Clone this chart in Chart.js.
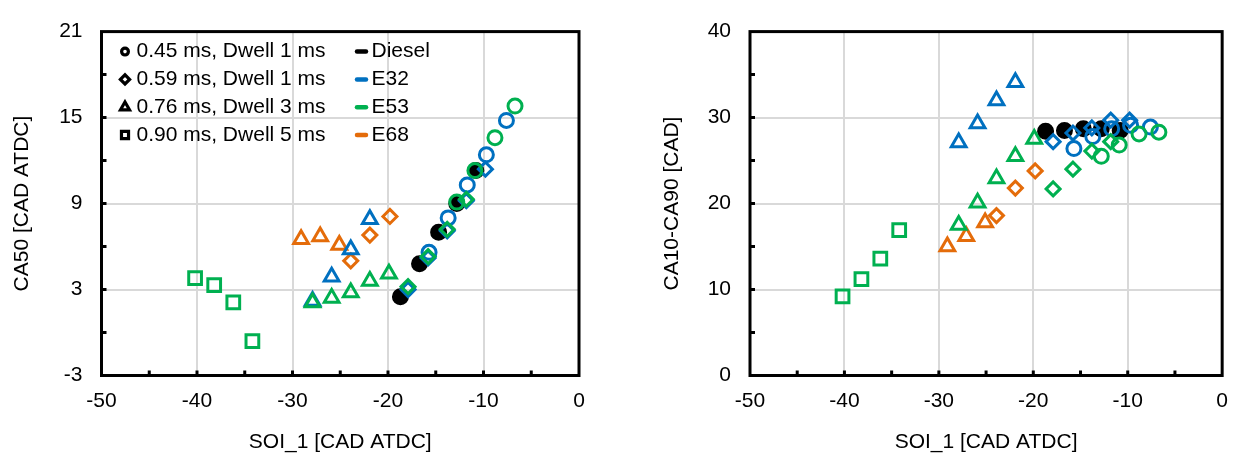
<!DOCTYPE html>
<html>
<head>
<meta charset="utf-8">
<script src="https://cdn.jsdelivr.net/npm/chart.js@4.4.1/dist/chart.umd.min.js"></script>
<style>
  html, body { margin: 0; padding: 0; background: #fff; }
  body { width: 1241px; height: 457px; position: relative; overflow: hidden; }
  canvas { position: absolute; top: 0; }
  #ca50 { left: 0; }
  #burn { left: 620px; }
</style>
</head>
<body>
<canvas id="ca50" width="620" height="457"></canvas>
<canvas id="burn" width="621" height="457"></canvas>
<script>
const soiTicks = [-50, -40, -30, -20, -10, 0];
const ca50Ticks = [-3, 3, 9, 15, 21];
const burnTicks = [0, 10, 20, 30, 40];

const fuels = ["Diesel", "E32", "E53", "E68"];
const fuelColors = ["#000000", "#0070C0", "#00B050", "#E46C0A"];
const injections = ["0.45 ms, Dwell 1 ms", "0.59 ms, Dwell 1 ms", "0.76 ms, Dwell 3 ms", "0.90 ms, Dwell 5 ms"];

// Diesel, 0.45 ms / dwell 1 ms
const dieselCircSoi = [-18.7, -16.7, -14.7, -12.8, -10.8];
const dieselCircCa50 = [2.5, 4.8, 7.0, 9.0, 11.3];
const dieselCircBurn = [28.4, 28.5, 28.7, 28.7, 28.5];

// E32
const e32CircSoi = [-15.7, -13.7, -11.7, -9.7, -7.6];
const e32CircCa50 = [5.6, 8.0, 10.3, 12.4, 14.8];
const e32CircBurn = [26.4, 27.8, 28.7, 29.1, 28.9];
const e32DiamSoi = [-17.9, -15.8, -13.8, -11.8, -9.8];
const e32DiamCa50 = [3.0, 5.2, 7.1, 9.2, 11.4];
const e32DiamBurn = [27.2, 28.2, 28.8, 29.7, 29.7];
const e32TriSoi = [-27.9, -25.9, -23.9, -21.9];
const e32TriCa50 = [2.2, 3.9, 5.8, 7.9];
const e32TriBurn = [27.1, 29.3, 32.0, 34.1];

// E53
const e53CircSoi = [-12.8, -10.9, -8.8, -6.7];
const e53CircCa50 = [9.1, 11.3, 13.6, 15.8];
const e53CircBurn = [25.5, 26.8, 28.1, 28.3];
const e53DiamSoi = [-17.9, -15.8, -13.8, -11.8];
const e53DiamCa50 = [3.2, 5.3, 7.2, 9.3];
const e53DiamBurn = [21.7, 24.0, 26.1, 27.2];
const e53TriSoi = [-27.9, -25.9, -23.9, -21.9, -19.9];
const e53TriCa50 = [2.1, 2.4, 2.8, 3.6, 4.1];
const e53TriBurn = [17.5, 20.1, 22.9, 25.5, 27.5];
const e53SqSoi = [-40.2, -38.2, -36.2, -34.2];
const e53SqCa50 = [3.8, 3.3, 2.1, -0.6];
const e53SqBurn = [9.2, 11.2, 13.6, 16.9];

// E68
const e68DiamSoi = [-23.9, -21.9, -19.8];
const e68DiamCa50 = [5.0, 6.8, 8.1];
const e68DiamBurn = [18.6, 21.8, 23.8];
const e68TriSoi = [-29.1, -27.1, -25.1];
const e68TriCa50 = [6.5, 6.7, 6.1];
const e68TriBurn = [15.0, 16.2, 17.8];

// marker look per injection strategy
const markerStyle = ["circle", "rectRot", "triangle", "rect"];
const markerRadius = [7, 7, 8.5, 9];
const legendRadius = [3.4, 4.6, 5.2, 5];
// E53 drawn on top, diesel at the bottom
const fuelOrder = [3, 1, 0, 2];

const series = [
  { fuel: 0, inj: 0, soi: dieselCircSoi, ca50: dieselCircCa50, burn: dieselCircBurn },
  { fuel: 1, inj: 0, soi: e32CircSoi, ca50: e32CircCa50, burn: e32CircBurn },
  { fuel: 1, inj: 1, soi: e32DiamSoi, ca50: e32DiamCa50, burn: e32DiamBurn },
  { fuel: 1, inj: 2, soi: e32TriSoi, ca50: e32TriCa50, burn: e32TriBurn },
  { fuel: 2, inj: 0, soi: e53CircSoi, ca50: e53CircCa50, burn: e53CircBurn },
  { fuel: 2, inj: 1, soi: e53DiamSoi, ca50: e53DiamCa50, burn: e53DiamBurn },
  { fuel: 2, inj: 2, soi: e53TriSoi, ca50: e53TriCa50, burn: e53TriBurn },
  { fuel: 2, inj: 3, soi: e53SqSoi, ca50: e53SqCa50, burn: e53SqBurn },
  { fuel: 3, inj: 1, soi: e68DiamSoi, ca50: e68DiamCa50, burn: e68DiamBurn },
  { fuel: 3, inj: 2, soi: e68TriSoi, ca50: e68TriCa50, burn: e68TriBurn },
];

const FONT = "'Liberation Sans', Arial, sans-serif";
Chart.defaults.font.family = FONT;
Chart.defaults.font.size = 21;
Chart.defaults.color = "#000";

function buildDatasets(key) {
  return series.map(s => {
    const color = fuelColors[s.fuel];
    return {
      label: fuels[s.fuel] + " " + injections[s.inj],
      data: s.soi.map((x, i) => ({ x: x, y: s[key][i] })),
      order: fuelOrder[s.fuel],
      pointStyle: markerStyle[s.inj],
      pointRadius: markerRadius[s.inj],
      pointBorderWidth: 3,
      pointBorderColor: color,
      pointBackgroundColor: s.fuel === 0 ? color : "rgba(255,255,255,0)",
      showLine: false,
    };
  });
}

// black box around the plot plus short inward tick marks
function framePlugin(xMinor, yMinor) {
  return {
    id: "frame",
    beforeDatasetsDraw(chart) {
      const { ctx, chartArea: a } = chart;
      const x = chart.scales.x, y = chart.scales.y;
      ctx.save();
      ctx.strokeStyle = "#000";
      ctx.lineWidth = 3;
      ctx.beginPath();
      for (let v = x.min + xMinor; v < x.max; v += xMinor) {
        const px = x.getPixelForValue(v);
        ctx.moveTo(px, a.bottom);
        ctx.lineTo(px, a.bottom - 5);
      }
      for (let v = y.min + yMinor; v < y.max; v += yMinor) {
        const py = y.getPixelForValue(v);
        ctx.moveTo(a.left, py);
        ctx.lineTo(a.left + 5, py);
      }
      ctx.stroke();
      ctx.strokeRect(a.left, a.top, a.right - a.left, a.bottom - a.top);
      ctx.restore();
    },
  };
}

// two-column key: injection strategy shapes and fuel colours
const keyPlugin = {
  id: "key",
  afterDraw(chart) {
    const { ctx, chartArea: a } = chart;
    ctx.save();
    ctx.font = "21px " + FONT;
    ctx.textBaseline = "middle";
    ctx.textAlign = "left";
    for (let i = 0; i < 4; i++) {
      const y = a.top + 20 + i * 27.8;
      ctx.fillStyle = "#fff";
      ctx.strokeStyle = "#000";
      ctx.lineWidth = 3.2;
      Chart.helpers.drawPoint(ctx, { pointStyle: markerStyle[i], radius: legendRadius[i], borderWidth: 3.2, rotation: 0 }, a.left + 23.5, y);
      ctx.fillStyle = "#000";
      ctx.fillText(injections[i], a.left + 35, y);

      ctx.strokeStyle = fuelColors[i];
      ctx.lineWidth = 4.5;
      ctx.lineCap = "round";
      ctx.beginPath();
      ctx.moveTo(a.left + 255.5, y);
      ctx.lineTo(a.left + 264.5, y);
      ctx.stroke();
      ctx.fillStyle = "#000";
      ctx.fillText(fuels[i], a.left + 270, y);
    }
    ctx.restore();
  },
};

function makeChart(id, cfg) {
  return new Chart(document.getElementById(id), {
    type: "scatter",
    data: { datasets: buildDatasets(cfg.key) },
    options: {
      responsive: false,
      animation: false,
      events: [],
      layout: { padding: cfg.padding },
      plugins: {
        legend: { display: false },
        tooltip: { enabled: false },
      },
      scales: {
        x: {
          type: "linear",
          min: soiTicks[0],
          max: soiTicks[soiTicks.length - 1],
          afterBuildTicks: s => { s.ticks = soiTicks.map(v => ({ value: v })); },
          afterFit: s => { s.height = cfg.xHeight; },
          grid: { color: "#d9d9d9", lineWidth: 2, drawTicks: false },
          border: { display: false },
          ticks: { padding: 13, font: { size: 21 } },
          title: {
            display: true,
            text: "SOI_1 [CAD ATDC]",
            font: { size: 21 },
            padding: { top: 0, bottom: 2 },
          },
        },
        y: {
          type: "linear",
          min: cfg.yTicks[0],
          max: cfg.yTicks[cfg.yTicks.length - 1],
          afterBuildTicks: s => { s.ticks = cfg.yTicks.map(v => ({ value: v })); },
          afterFit: s => { s.width = cfg.yWidth; },
          grid: { color: "#d9d9d9", lineWidth: 2, drawTicks: false },
          border: { display: false },
          ticks: { padding: 19, font: { size: 21 } },
          title: {
            display: true,
            text: cfg.yTitle,
            font: { size: 21 },
            padding: { top: cfg.yTitlePad, bottom: 0 },
          },
        },
      },
    },
    plugins: cfg.plugins,
  });
}

makeChart("ca50", {
  key: "ca50",
  yTicks: ca50Ticks,
  yTitle: "CA50 [CAD ATDC]",
  yTitlePad: 10,
  yWidth: 101.5,
  xHeight: 81.5,
  padding: { left: 0, right: 41, top: 22, bottom: 0 },
  plugins: [framePlugin(5, 3), keyPlugin],
});

makeChart("burn", {
  key: "burn",
  yTicks: burnTicks,
  yTitle: "CA10-CA90 [CAD]",
  yTitlePad: 40,
  yWidth: 130,
  xHeight: 81.5,
  padding: { left: 0, right: 12, top: 22, bottom: 0 },
  plugins: [framePlugin(5, 5)],
});
</script>
</body>
</html>
